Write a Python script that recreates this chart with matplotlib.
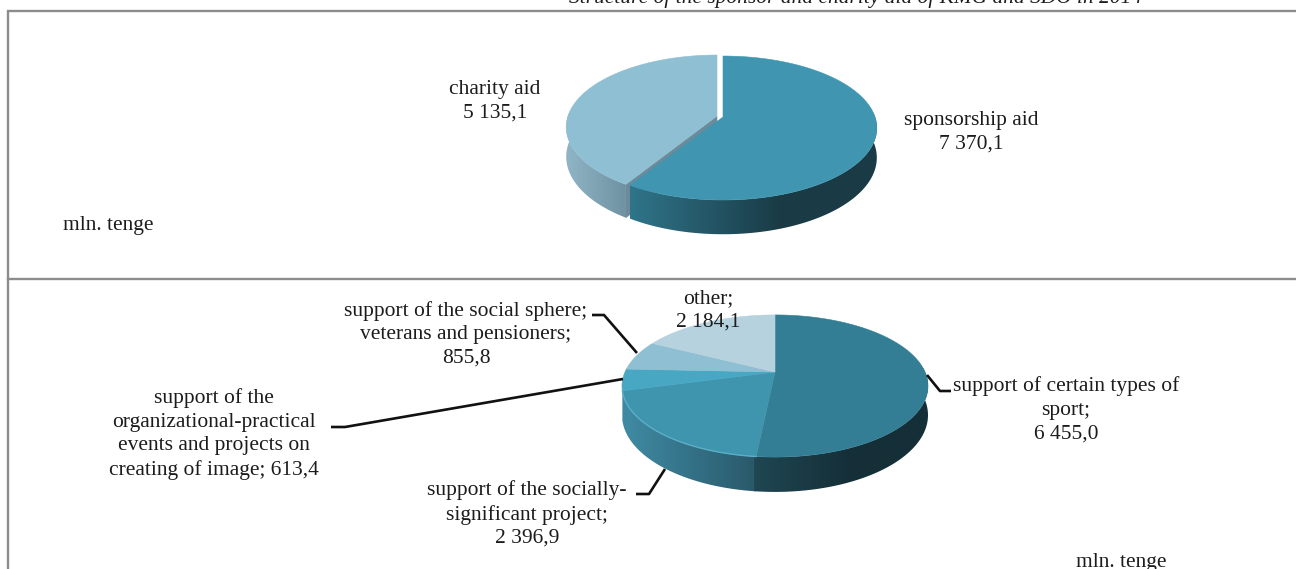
import numpy as np
import matplotlib
matplotlib.use("Agg")
import matplotlib.pyplot as plt
from matplotlib.colors import LinearSegmentedColormap
from matplotlib.patches import Polygon

plt.rcParams['font.family'] = ['Liberation Serif', 'DejaVu Sans']

W, H = 1296, 569
TEXT_COLOR = "#1c1c1c"
FRAME_COLOR = "#8c8c8c"

# upper pie, clockwise from the top
aid_labels = ["sponsorship aid\n7 370,1", "charity aid\n5 135,1"]
aid_values = [7370.1, 5135.1]
aid_top_colors = ["#4096b0", "#8fbfd2"]
aid_wall_colors = [("#2f7489", "#1a3b46"), ("#8fb4c5", "#6c909f")]

# lower pie, clockwise from the top
dir_labels = [
    "support of certain types of\nsport;\n6 455,0",
    "support of the socially-\nsignificant project;\n2 396,9",
    "support of the\norganizational-practical\nevents and projects on\ncreating of image; 613,4",
    "support of the social sphere;\nveterans and pensioners;\n855,8",
    "other;\n2 184,1",
]
dir_values = [6455.0, 2396.9, 613.4, 855.8, 2184.1]
dir_top_colors = ["#337e94", "#3f95ae", "#48a7c3", "#8fbfd2", "#b6d2df"]
dir_wall_colors = [("#1f4652", "#152f38"), ("#3f8aa3", "#29596a")]


def project(theta, pie):
    # tilted disc seen in perspective, theta clockwise from the back
    u, v = np.sin(theta), -np.cos(theta)
    w = 1 - pie["k"] * v
    return pie["cx"] + pie["rx"] * u / w, pie["cy"] + pie["ry"] * v / w, pie["depth"] / w


def slice_angles(values):
    edges = np.cumsum([0] + list(values)) / np.sum(values) * 2 * np.pi
    return list(zip(edges[:-1], edges[1:]))


def gradient_fill(ax, pts, c0, c1, x0, x1):
    cmap = LinearSegmentedColormap.from_list("wall", [c0, c1])
    xs = [p[0] for p in pts]
    ys = [p[1] for p in pts]
    # the ramp runs from x0 to x1 and stays flat outside that range
    left, right = min(xs) - 1, max(xs) + 1
    ramp = np.clip((np.linspace(left, right, 512) - x0) / (x1 - x0), 0, 1).reshape(1, -1)
    im = ax.imshow(ramp, cmap=cmap, vmin=0, vmax=1, aspect="auto",
                   extent=(left, right, max(ys) + 1, min(ys) - 1), zorder=ax.zcount)
    ax.zcount += 1
    clip = Polygon(pts, closed=True, transform=ax.transData, fc="none", ec="none")
    ax.add_patch(clip)
    im.set_clip_path(clip)


def flat_fill(ax, pts, color):
    ax.add_patch(Polygon(pts, closed=True, fc=color, ec=color, lw=0.4, zorder=ax.zcount))
    ax.zcount += 1


def draw_wall(ax, a0, a1, pie, ramp, dx=0, dy=0):
    # only the part of the rim that faces the viewer has a visible wall
    a0, a1 = max(a0, np.pi * 0.48), min(a1, np.pi * 1.52)
    if a1 <= a0:
        return
    t = np.linspace(a0, a1, 120)
    x, y, d = project(t, pie)
    x, y = x + dx, y + dy
    pts = list(zip(x, y)) + list(zip(x[::-1], (y + d)[::-1]))
    gradient_fill(ax, pts, *ramp)


def draw_top(ax, a0, a1, pie, color, dx=0, dy=0):
    t = np.linspace(a0, a1, 200)
    x, y, _ = project(t, pie)
    pts = [(pie["cx"] + dx, pie["cy"] + dy)] + list(zip(x + dx, y + dy))
    flat_fill(ax, pts, color)


fig = plt.figure(figsize=(W / 100, H / 100), dpi=100)
ax = fig.add_axes([0, 0, 1, 1])
ax.zcount = 2

# frame around the two panels
ax.plot([W, 8, 8], [10.5, 10.5, H], color=FRAME_COLOR, lw=1.7, solid_joinstyle="miter", zorder=1)
ax.plot([8, W], [278.5, 278.5], color=FRAME_COLOR, lw=1.7, zorder=1)

# upper pie: the charity slice is pulled out to the left
aid_pie = dict(cx=723, cy=117, rx=152, ry=70.3, k=0.153, depth=29)
charity_pie = dict(aid_pie, rx=149)
(s0, s1), (c0, c1) = slice_angles(aid_values)
off = (-6, -1)
draw_wall(ax, c0, c1, charity_pie, (aid_wall_colors[1][0], aid_wall_colors[1][1], 568, 630), *off)
# cut face of the pulled-out slice
ex, ey, ed = project(c0, charity_pie)
ex, ey = ex + off[0], ey + off[1]
cut_face = [(aid_pie["cx"] + off[0], aid_pie["cy"] + off[1]), (ex, ey), (ex, ey + ed),
            (aid_pie["cx"] + off[0], aid_pie["cy"] + off[1] + ed)]
flat_fill(ax, cut_face, "#6b8b9a")
draw_top(ax, c0, c1, charity_pie, aid_top_colors[1], *off)
draw_wall(ax, s0, s1, aid_pie, (aid_wall_colors[0][0], aid_wall_colors[0][1], 632, 780))
draw_top(ax, s0, s1, aid_pie, aid_top_colors[0])

# lower pie
dir_pie = dict(cx=775, cy=372, rx=150, ry=68.3, k=0.197, depth=28)
spans = slice_angles(dir_values)
draw_wall(ax, spans[1][0], spans[1][1], dir_pie, (dir_wall_colors[1][0], dir_wall_colors[1][1], 625, 757))
draw_wall(ax, spans[0][0], spans[0][1] + 0.01, dir_pie, (dir_wall_colors[0][0], dir_wall_colors[0][1], 757, 850))
for i, (a0, a1) in enumerate(spans):
    draw_top(ax, a0, a1, dir_pie, dir_top_colors[i])
# light rim along the front of the second slice
t = np.linspace(spans[1][0], spans[2][0], 80)
rim_x, rim_y, _ = project(t, dir_pie)
ax.plot(rim_x, rim_y, color="#5aaec8", lw=1.0, zorder=ax.zcount)
ax.zcount += 1

# leader lines of the lower pie
leader_x = [[927, 940, 951], [665, 649, 636], [623, 345, 331], [637, 604, 592]]
leader_y = [[375, 391, 391], [469, 494, 494], [379, 427, 427], [353, 315, 315]]
for lx, ly in zip(leader_x, leader_y):
    ax.plot(lx, ly, color="#111111", lw=1.9, solid_capstyle="butt", zorder=ax.zcount)

label_style = dict(ha="center", va="center", fontsize=15.5, color=TEXT_COLOR,
                   linespacing=1.32, zorder=50)

ax.text(971, 132, aid_labels[0], **label_style)
ax.text(495, 101.5, aid_labels[1], **label_style)
ax.text(1066, 410, dir_labels[0], **label_style)
ax.text(527, 514, dir_labels[1], **label_style)
ax.text(214, 434, dir_labels[2], **label_style)
ax.text(466, 334.5, dir_labels[3], **label_style)
ax.text(708, 310, dir_labels[4], **label_style)

ax.text(63, 225.5, "mln. tenge", ha="left", va="center", fontsize=15.5, color=TEXT_COLOR, zorder=50)
ax.text(1076, 563, "mln. tenge", ha="left", va="center", fontsize=15.5, color=TEXT_COLOR, zorder=50)
ax.text(569, -2, "Structure of the sponsor and charity aid of KMG and SDO in 2014", ha="left",
        va="center", fontsize=15.4, style="italic", color=TEXT_COLOR, zorder=50)

ax.set_xlim(0, W)
ax.set_ylim(H, 0)
ax.axis("off")

fig.savefig("out.png", dpi=100, facecolor="white")
